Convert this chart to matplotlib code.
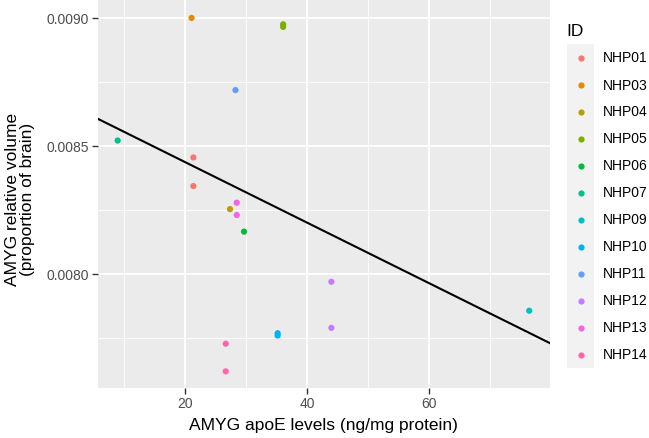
import matplotlib
matplotlib.use("Agg")
import matplotlib.pyplot as plt
from matplotlib.patches import Rectangle

plt.rcParams['font.family'] = ['Liberation Sans', 'DejaVu Sans']

ids = ["NHP01", "NHP01", "NHP03", "NHP05", "NHP05", "NHP11", "NHP07",
       "NHP13", "NHP13", "NHP04", "NHP06", "NHP12", "NHP12", "NHP10",
       "NHP10", "NHP14", "NHP14", "NHP09"]
apoe = [21.4, 21.4, 21.1, 36.1, 36.1, 28.3, 9.0, 28.5, 28.5, 27.4, 29.7,
        44.0, 44.0, 35.2, 35.2, 26.7, 26.7, 76.4]
volume = [0.008455, 0.008343, 0.009000, 0.008975, 0.008965, 0.008718,
          0.008521, 0.008278, 0.008230, 0.008253, 0.008165, 0.007969,
          0.007789, 0.007768, 0.007759, 0.007727, 0.007619, 0.007856]

legend_ids = ["NHP01", "NHP03", "NHP04", "NHP05", "NHP06", "NHP07",
              "NHP09", "NHP10", "NHP11", "NHP12", "NHP13", "NHP14"]
palette = ["#F8766D", "#DE8C00", "#B79F00", "#7CAE00", "#00BA38", "#00C08B",
           "#00BFC4", "#00B4F0", "#619CFF", "#C77CFF", "#F564E3", "#FF64B0"]

fit_intercept = 0.008674
fit_slope = -1.184e-5

xticks = [20, 40, 60]
yticks = [0.0080, 0.0085, 0.0090]
ytick_labels = ["0.0080", "0.0085", "0.0090"]

W, H = 649, 439
fig = plt.figure(figsize=(W / 100, H / 100), dpi=100)
L, R, T, B = 97.5, 550, 0, 388.5
ax = fig.add_axes([L / W, 1 - B / H, (R - L) / W, (B - T) / H])
ax.set_facecolor("#EBEBEB")
for s in ax.spines.values():
    s.set_visible(False)

xlim = (5.7, 79.8)
ylim = (0.007556, 0.009074)
ax.set_xlim(*xlim)
ax.set_ylim(*ylim)

ax.set_xticks(xticks)
ax.set_yticks(yticks)
ax.set_yticklabels(ytick_labels)
ax.set_xticks([10, 30, 50, 70], minor=True)
ax.set_yticks([0.00775, 0.00825, 0.00875], minor=True)
ax.grid(True, which="major", color="white", linewidth=1.3)
ax.grid(True, which="minor", color="white", linewidth=0.6)
ax.set_axisbelow(True)
ax.tick_params(which="major", length=4, width=1.0, color="#333333",
               labelcolor="#4D4D4D", labelsize=10, pad=2)
ax.tick_params(which="minor", length=0)

color_map = dict(zip(legend_ids, palette))
cols = [color_map[i] for i in ids]
ax.scatter(apoe, volume, c=cols, s=20, linewidths=0, zorder=3)

xs = list(xlim)
ax.plot(xs, [fit_intercept + fit_slope * x for x in xs], color="black",
        linewidth=1.5, zorder=4)

ax.set_xlabel("AMYG apoE levels (ng/mg protein)", fontsize=12.5, labelpad=5)
fig.text(20 / W, 1 - 199 / H, "AMYG relative volume\n(proportion of brain)",
         fontsize=12.5, rotation=90, ha="center", va="center",
         multialignment="center", linespacing=0.95)

# legend
lax = fig.add_axes([0, 0, 1, 1], facecolor="none")
lax.set_xlim(0, W)
lax.set_ylim(H, 0)
lax.axis("off")
lax.text(566, 31, "ID", fontsize=12.5, va="center", ha="left", color="black")
top = 45
step = 27.0
for k, (lab, col) in enumerate(zip(legend_ids, palette)):
    y0 = top + k * step
    lax.add_patch(Rectangle((567, y0), 27, step, facecolor="#F2F2F2",
                            edgecolor="none"))
    lax.scatter([581], [y0 + step / 2], s=20, color=col, linewidths=0)
    lax.text(603, y0 + step / 2, lab, fontsize=10, va="center", ha="left",
             color="black")

fig.savefig("out.png", dpi=100)
